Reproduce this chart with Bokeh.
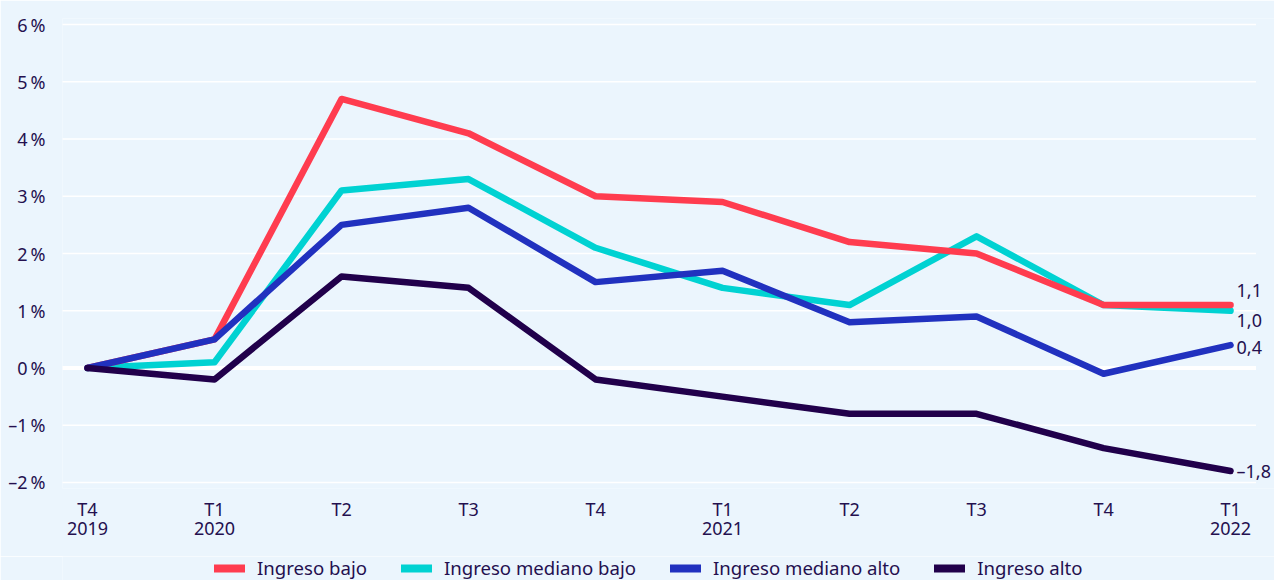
from bokeh.plotting import figure
from bokeh.layouts import column
from bokeh.models import ColumnDataSource, FixedTicker, Legend, LegendItem, Range1d
from bokeh.core.properties import value
from bokeh.embed import file_html
from bokeh.resources import INLINE

# ---- data ----
quarter_labels = ["T4\n2019", "T1\n2020", "T2", "T3", "T4", "T1\n2021", "T2", "T3", "T4", "T1\n2022"]
ingreso_bajo = [0.0, 0.5, 4.7, 4.1, 3.0, 2.9, 2.2, 2.0, 1.1, 1.1]
ingreso_mediano_bajo = [0.0, 0.1, 3.1, 3.3, 2.1, 1.4, 1.1, 2.3, 1.1, 1.0]
ingreso_mediano_alto = [0.0, 0.5, 2.5, 2.8, 1.5, 1.7, 0.8, 0.9, -0.1, 0.4]
ingreso_alto = [0.0, -0.2, 1.6, 1.4, -0.2, -0.5, -0.8, -0.8, -1.4, -1.8]
series_names = ["Ingreso bajo", "Ingreso mediano bajo", "Ingreso mediano alto", "Ingreso alto"]
y_ticks = [-2, -1, 0, 1, 2, 3, 4, 5, 6]

# ---- styles ----
BG = "#EBF5FD"
TXT = "#24104F"
FONT = "Noto Sans"
FS = "18px"
colors = {"Ingreso bajo": "#FF3C4F",
          "Ingreso mediano bajo": "#00D2D2",
          "Ingreso mediano alto": "#2131BF",
          "Ingreso alto": "#21004B"}
series = {"Ingreso bajo": ingreso_bajo,
          "Ingreso mediano bajo": ingreso_mediano_bajo,
          "Ingreso mediano alto": ingreso_mediano_alto,
          "Ingreso alto": ingreso_alto}
draw_order = ["Ingreso mediano bajo", "Ingreso bajo", "Ingreso mediano alto", "Ingreso alto"]
end_label_dy = {"Ingreso bajo": -15, "Ingreso mediano bajo": 10, "Ingreso mediano alto": 2, "Ingreso alto": 0}

x = list(range(len(quarter_labels)))

p = figure(width=1274, height=556, output_backend="svg", toolbar_location=None,
           x_range=Range1d(-0.197, 9.346), y_range=Range1d(-2.105, 6.105),
           min_border_left=62, min_border_right=0, min_border_top=18, min_border_bottom=68,
           background_fill_color=BG, border_fill_color=BG, outline_line_color=None)

p.xgrid.visible = False
p.ygrid.visible = False

# horizontal grid lines
grid_src = ColumnDataSource(dict(
    x0=[-0.2] * len(y_ticks), x1=[9.2] * len(y_ticks), y=y_ticks,
    w=[4 if t == 0 else 1.5 for t in y_ticks]))
p.segment(x0="x0", y0="y", x1="x1", y1="y", line_color="white", line_width="w", source=grid_src)

for name in draw_order:
    p.line(x, series[name], line_color=colors[name], line_width=6.5,
           line_join="round", line_cap="round")

# end labels
last_vals = [series[n][-1] for n in series_names]
lab_src = ColumnDataSource(dict(
    x=[x[-1]] * len(series_names), y=last_vals,
    t=[f"{v:.1f}".replace(".", ",").replace("-", "\u2013") for v in last_vals],
    dy=[end_label_dy[n] for n in series_names]))
p.text(x="x", y="y", text="t", source=lab_src, x_offset=6, y_offset="dy",
       text_font=value(FONT), text_font_size=FS, text_color=TXT,
       text_baseline="middle", text_align="left")

# axes
p.yaxis.ticker = FixedTicker(ticks=y_ticks)
p.yaxis.major_label_overrides = {t: (f"{t}\u2009%".replace("-", "\u2013")) for t in y_ticks}
p.xaxis.ticker = FixedTicker(ticks=x)
p.xaxis.major_label_overrides = {i: lab for i, lab in enumerate(quarter_labels)}
for ax in (p.xaxis, p.yaxis):
    ax.axis_line_color = None
    ax.major_tick_line_color = None
    ax.minor_tick_line_color = None
    ax.major_tick_out = 0
    ax.major_tick_in = 0
    ax.major_label_text_font = FONT
    ax.major_label_text_font_size = FS
    ax.major_label_text_color = TXT
p.xaxis.major_label_text_line_height = 0.82
p.yaxis.major_label_standoff = 17
p.xaxis.major_label_standoff = 8

# legend strip (its frame is aligned with the main frame, left edge at 62px)
lg = figure(width=1274, height=24, output_backend="svg", toolbar_location=None,
            x_range=Range1d(0, 1), y_range=Range1d(100, 101), x_axis_type=None, y_axis_type=None,
            min_border_left=0, min_border_right=0, min_border_top=0, min_border_bottom=0,
            background_fill_color=BG, border_fill_color=BG, outline_line_color=None)
lg.xgrid.visible = False
lg.ygrid.visible = False
items = []
for name in series_names:
    # same series, drawn out of view: only its legend swatch is visible
    proxy = lg.line(x, series[name], line_color=colors[name], line_width=8, line_cap="round")
    items.append(LegendItem(label=name, renderers=[proxy]))
legend = Legend(items=items, orientation="horizontal", location=(152, 0),
                glyph_width=31, glyph_height=24, label_standoff=12, spacing=34,
                padding=0, margin=0, border_line_color=None, background_fill_alpha=0,
                label_text_font=FONT, label_text_font_size="18.6px", label_text_color=TXT,
                label_height=24)
lg.add_layout(legend)

open("out.html", "w").write(file_html(column(p, lg, spacing=0), INLINE))
